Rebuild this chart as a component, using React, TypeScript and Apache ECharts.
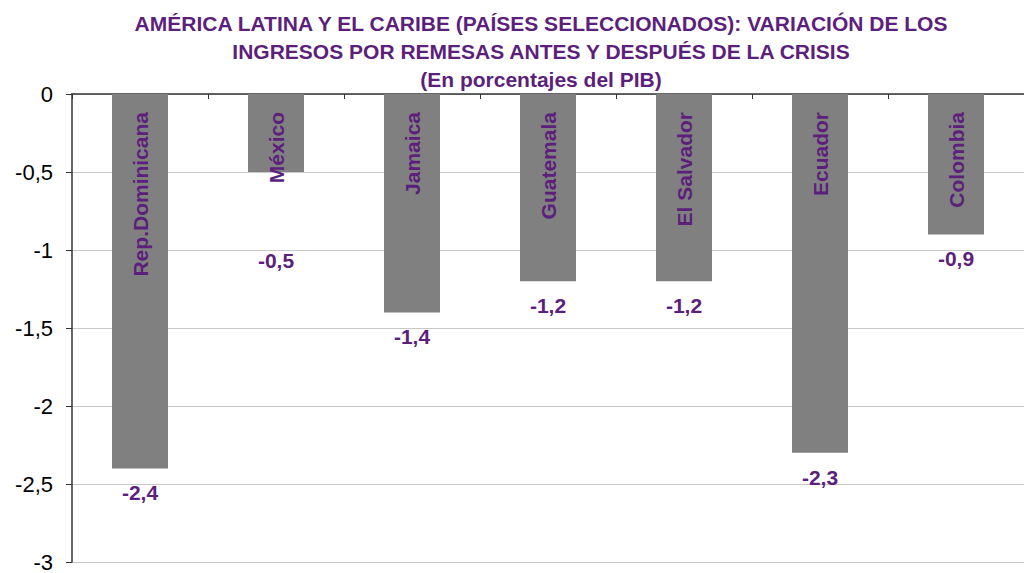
import React, { useEffect, useRef } from "react";
import * as echarts from "echarts";

const categories = ["Rep.Dominicana", "México", "Jamaica", "Guatemala", "El Salvador", "Ecuador", "Colombia"];
const values = [-2.4, -0.5, -1.4, -1.2, -1.2, -2.3, -0.9];
const titleLines = [
  "AMÉRICA LATINA Y EL CARIBE (PAÍSES SELECCIONADOS): VARIACIÓN DE LOS",
  "INGRESOS POR REMESAS ANTES Y DESPUÉS DE LA CRISIS",
  "(En porcentajes del PIB)",
];

const PURPLE = "#5c1f7c";
const FONT = "'Liberation Sans', Arial, sans-serif";

export default function App() {
  const ref = useRef<HTMLDivElement>(null);
  useEffect(() => {
    document.body.style.margin = "0";
    const chart = echarts.init(ref.current!, null, { renderer: "svg" });
    const fmt = (v: number) => String(v).replace(".", ",");
    const valueData = values.map((v, i) =>
      i === 1 ? { value: v, label: { distance: 78 } } : v
    );
    chart.setOption({
      animation: false,
      backgroundColor: "#ffffff",
      title: {
        text: titleLines.join("\n"),
        left: 536,
        top: 4,
        textAlign: "center",
        textStyle: {
          color: PURPLE,
          fontFamily: FONT,
          fontWeight: "bold",
          fontSize: 21,
          lineHeight: 28,
        },
      },
      grid: { left: 72, top: 94, width: 963, height: 474, containLabel: false },
      xAxis: {
        type: "category",
        data: categories,
        position: "top",
        axisLine: { lineStyle: { color: "#333333", width: 1.5 } },
        axisTick: { show: true, inside: true, length: 5, lineStyle: { color: "#333333" } },
        axisLabel: { show: false },
      },
      yAxis: {
        type: "value",
        min: -3,
        max: 0,
        interval: 0.5,
        axisLine: { show: true, lineStyle: { color: "#333333", width: 1.5 } },
        axisTick: { show: true, length: 6, lineStyle: { color: "#333333" } },
        axisLabel: {
          color: "#000000",
          fontFamily: FONT,
          fontSize: 22,
          margin: 19,
          formatter: (v: number) => fmt(v),
        },
        splitLine: { show: true, lineStyle: { color: "#c8c8c8", width: 1 } },
      },
      series: [
        {
          type: "bar",
          data: values,
          barWidth: 56,
          itemStyle: { color: "#808080" },
          label: {
            show: true,
            position: "insideTop",
            distance: 18,
            rotate: 90,
            align: "right",
            verticalAlign: "middle",
            color: PURPLE,
            fontFamily: FONT,
            fontWeight: "bold",
            fontSize: 21,
            formatter: (p: any) => p.name,
          },
        },
        {
          type: "bar",
          data: valueData,
          barWidth: 56,
          barGap: "-100%",
          itemStyle: { color: "rgba(0,0,0,0)" },
          label: {
            show: true,
            position: "bottom",
            distance: 14,
            color: PURPLE,
            fontFamily: FONT,
            fontWeight: "bold",
            fontSize: 21,
            formatter: (p: any) => fmt(p.value),
          },
        },
      ],
    });
    return () => chart.dispose();
  }, []);
  return <div ref={ref} style={{ width: 1024, height: 573 }} />;
}
